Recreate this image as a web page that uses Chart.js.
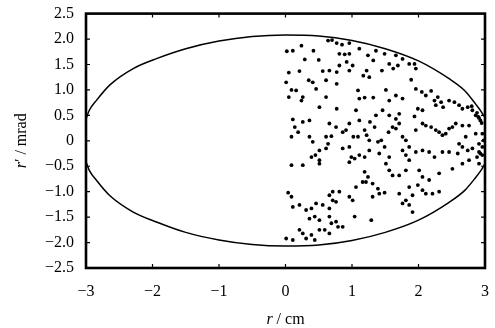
<!DOCTYPE html>
<html>
<head>
<meta charset="utf-8">
<script src="https://cdn.jsdelivr.net/npm/chart.js@4.4.1/dist/chart.umd.min.js"></script>
<style>
  body { margin: 0; background: #fff; }
  #wrap { width: 495px; height: 328px; position: relative; }
</style>
</head>
<body>
<div id="wrap"><canvas id="phaseChart"></canvas></div>
<script>
// acceptance ellipse (its tips are cut by the frame)
var ellipseX = [-3, -2.95, -2.84, -2.64, -2.29, -1.93, -1.5, -1, -0.5, 0,
  0.5, 1, 1.5, 2, 2.46, 2.7, 2.86, 2.95, 3];
var ellipseUpper = [0.43, 0.6, 0.8, 1.1, 1.42, 1.62, 1.81, 1.96, 2.05, 2.08,
  2.06, 1.97, 1.81, 1.57, 1.22, 0.98, 0.72, 0.56, 0.45];
var ellipseLower = [-0.41, -0.58, -0.78, -1.08, -1.4, -1.6, -1.8, -1.95, -2.04, -2.07,
  -2.05, -1.96, -1.8, -1.56, -1.21, -0.97, -0.72, -0.56, -0.45];

// particles: r (cm) and r' (mrad)
var particleR = [
  0.24, 0.02, 0.11, 0.42, 0.29, 0.50, 0.64, 0.70, 0.77, 0.85, 0.96, 0.81, 0.89, 0.96, 0.92,
  1.11, 1.24, 1.32, 1.36, 1.49, 1.66, 1.69, 1.76, 1.86, 1.94, 1.96, 1.56, 1.62, 1.22, 1.17,
  1.45, 1.26, 1.89, 0.81, 0.77, 0.66, 0.56, 0.05, 0.21, 0.35, 0.41, 0.01, 0.61, 0.77, 0.96,
  1.01,
  0.09, 0.05, 0.16, 0.24, 0.26, 0.46, 0.61, 0.77, 0.51, 1.09, 1.11, 1.19, 1.32, 1.51, 1.56,
  1.66, 1.76, 1.96, 2.05, 2.11, 2.19, 2.24, 2.29, 2.34, 2.26, 2.37, 2.46, 2.54, 2.61, 2.66,
  2.74, 2.81, 2.86, 2.91, 2.06, 1.99, 1.94, 1.71, 1.66, 1.46, 1.56, 1.36, 1.27, 1.06, 1.11,
  0.96, 0.91, 0.76, 0.66, 0.36, 0.26, 0.11, 0.14, 0.19, 2.80, 2.88, 2.93, 2.90, 2.95,
  0.09, 0.36, 0.41, 0.61, 0.64, 0.69, 0.86, 0.96, 1.02, 1.09, 1.19, 1.22, 1.26, 1.34, 1.39,
  1.44, 1.49, 1.55, 1.61, 1.66, 1.71, 1.76, 1.81, 1.86, 1.96, 2.06, 2.11, 2.19, 2.26, 2.31,
  2.36, 2.41, 2.46, 2.51, 2.56, 2.66, 2.76, 2.86, 2.96, 2.71, 2.61, 2.66, 2.74, 2.81, 2.91,
  2.96, 2.59, 2.46, 2.36, 2.24, 2.16, 2.06, 1.96, 0.51, 0.39, 0.51, 0.45, 0.61, 0.86, 1.11,
  0.96, 0.99, 1.04, 1.19, 1.26, 1.41, 1.56, 1.76, 1.81, 1.86, 2.91, 2.96, 2.93, 2.88, 2.98,
  0.09, 0.26, 0.51, 1.19, 1.24, 1.21, 1.31, 1.51, 1.56, 1.61, 1.71, 1.81, 2.01, 2.06, 2.16,
  2.31, 2.51, 2.66, 2.76, 2.91, 1.86, 1.99, 2.06, 2.11, 2.21, 2.31, 1.91, 1.81, 1.76, 1.86,
  1.91, 0.96, 1.01, 1.06, 1.16, 0.71, 0.81, 0.66, 1.39, 1.41, 1.31, 1.49, 1.71, 0.04, 0.09,
  0.11, 0.21, 0.31, 0.39, 0.46, 0.56, 0.66, 0.71, 0.76, 0.44, 0.36, 0.51, 0.66, 0.69, 0.76,
  0.79, 0.86, 1.04, 1.29,
  0.01, 0.11, 0.21, 0.26, 0.31, 0.39, 0.44, 0.51, 0.59, 0.66
];
var particleRp = [
  1.87, 1.76, 1.77, 1.77, 1.60, 1.59, 1.97, 1.98, 1.92, 1.89, 1.92, 1.71, 1.70, 1.71, 1.55,
  1.81, 1.68, 1.58, 1.77, 1.71, 1.68, 1.48, 1.61, 1.51, 1.51, 1.42, 1.51, 1.42, 1.38, 1.28,
  1.38, 1.25, 1.20, 1.48, 1.35, 1.38, 1.37, 1.34, 1.37, 1.19, 1.15, 1.15, 1.19, 1.12, 1.38,
  1.48,
  1.00, 0.86, 0.99, 0.79, 0.86, 1.02, 0.86, 0.63, 0.66, 0.99, 0.83, 0.85, 0.85, 1.00, 0.79,
  0.89, 0.83, 1.02, 0.96, 0.89, 0.98, 0.79, 0.86, 0.76, 0.70, 0.66, 0.79, 0.76, 0.70, 0.63,
  0.66, 0.60, 0.50, 0.45, 0.60, 0.63, 0.48, 0.53, 0.43, 0.60, 0.50, 0.50, 0.37, 0.60, 0.40,
  0.34, 0.21, 0.27, 0.34, 0.40, 0.37, 0.42, 0.27, 0.17, 0.68, 0.55, 0.40, 0.47, 0.35,
  0.08, 0.08, -0.02, 0.08, -0.06, 0.09, 0.17, -0.12, 0.08, 0.08, 0.21, 0.11, 0.01, 0.27, -0.02,
  0.01, -0.12, 0.17, 0.27, 0.24, 0.34, 0.08, 0.01, -0.12, 0.21, 0.34, 0.30, 0.27, 0.21, 0.17,
  0.11, 0.14, 0.24, 0.27, 0.34, 0.30, 0.30, 0.14, 0.14, 0.08, -0.06, -0.12, -0.19, -0.15, -0.22,
  -0.28, -0.25, -0.22, -0.22, -0.32, -0.22, -0.19, -0.22, -0.19, -0.32, -0.38, -0.28, -0.15, -0.15, -0.28,
  -0.42, -0.32, -0.35, -0.32, -0.19, -0.25, -0.32, -0.19, -0.28, -0.38, -0.06, -0.12, -0.25, -0.32, 0.01,
  -0.48, -0.48, -0.45, -0.61, -0.71, -0.81, -0.84, -0.45, -0.58, -0.68, -0.68, -0.58, -0.58, -0.71, -0.77,
  -0.64, -0.55, -0.45, -0.38, -0.45, -0.91, -0.87, -0.97, -1.04, -1.04, -1.00, -1.07, -1.17, -1.23, -1.26,
  -1.40, -1.10, -1.17, -0.91, -0.81, -1.00, -1.00, -1.07, -0.94, -1.04, -1.10, -1.02, -1.04, -1.02, -1.10,
  -1.30, -1.26, -1.36, -1.33, -1.23, -1.26, -1.33, -1.17, -1.20, -1.49, -1.53, -1.56, -1.49, -1.62, -1.59,
  -1.69, -1.69, -1.49, -1.56,
  -1.92, -1.95, -1.75, -1.82, -1.92, -1.85, -1.95, -1.75, -1.75, -1.82
];

var xTicks = [-3, -2, -1, 0, 1, 2, 3];
var xTickLabels = ["\u22123", "\u22122", "\u22121", "0", "1", "2", "3"];
var yTicks = [-2.5, -2, -1.5, -1, -0.5, 0, 0.5, 1, 1.5, 2, 2.5];
var yTickLabels = ["\u22122.5", "\u22122.0", "\u22121.5", "\u22121.0", "\u22120.5", "0",
  "0.5", "1.0", "1.5", "2.0", "2.5"];

var FONT = "'Liberation Serif', 'Times New Roman', serif";

function pairs(xs, ys) {
  return xs.map(function (x, i) { return { x: x, y: ys[i] }; });
}

// heavy frame with small inward ticks on all four sides
var framePlugin = {
  id: "frame",
  afterDatasetsDraw: function (chart) {
    var ctx = chart.ctx, a = chart.chartArea;
    var xs = chart.scales.x, ys = chart.scales.y;
    ctx.save();
    ctx.strokeStyle = "#000";
    ctx.lineWidth = 1.2;
    ctx.beginPath();
    xTicks.forEach(function (v) {
      var px = xs.getPixelForValue(v);
      ctx.moveTo(px, a.bottom); ctx.lineTo(px, a.bottom - 4);
      ctx.moveTo(px, a.top); ctx.lineTo(px, a.top + 4);
    });
    yTicks.forEach(function (v) {
      var py = ys.getPixelForValue(v);
      ctx.moveTo(a.left, py); ctx.lineTo(a.left + 4, py);
      ctx.moveTo(a.right, py); ctx.lineTo(a.right - 4, py);
    });
    ctx.stroke();
    ctx.lineWidth = 2.6;
    ctx.strokeRect(a.left, a.top, a.right - a.left, a.bottom - a.top);
    ctx.restore();
  }
};

// axis titles with italic variable names
var titlePlugin = {
  id: "axisTitles",
  afterDraw: function (chart) {
    var ctx = chart.ctx, a = chart.chartArea;
    ctx.save();
    ctx.fillStyle = "#000";
    ctx.textBaseline = "middle";

    var it = "italic 16px " + FONT, rm = "16px " + FONT;
    ctx.font = it; var w1 = ctx.measureText("r").width;
    ctx.font = rm; var w2 = ctx.measureText(" / cm").width;
    var x0 = (a.left + a.right) / 2 - (w1 + w2) / 2;
    ctx.font = it; ctx.fillText("r", x0, 320);
    ctx.font = rm; ctx.fillText(" / cm", x0 + w1, 320);

    ctx.translate(22, (a.top + a.bottom) / 2);
    ctx.rotate(-Math.PI / 2);
    ctx.font = it; var v1 = ctx.measureText("r").width;
    ctx.font = rm; var v2 = ctx.measureText("\u2032 / mrad").width;
    var y0 = -(v1 + v2) / 2;
    ctx.font = it; ctx.fillText("r", y0, 0);
    ctx.font = rm; ctx.fillText("\u2032 / mrad", y0 + v1, 0);
    ctx.restore();
  }
};

var phaseChart = new Chart(document.getElementById("phaseChart"), {
  type: "scatter",
  data: {
    datasets: [
      {
        label: "particles",
        data: pairs(particleR, particleRp),
        backgroundColor: "#000",
        borderWidth: 0,
        pointRadius: 1.9,
        pointHoverRadius: 1.9,
      },
      {
        label: "ellipse upper",
        data: pairs(ellipseX, ellipseUpper),
        showLine: true,
        borderColor: "#000",
        borderWidth: 1.5,
        pointRadius: 0,
        cubicInterpolationMode: "monotone",
      },
      {
        label: "ellipse lower",
        data: pairs(ellipseX, ellipseLower),
        showLine: true,
        borderColor: "#000",
        borderWidth: 1.5,
        pointRadius: 0,
        cubicInterpolationMode: "monotone",
      },
    ],
  },
  options: {
    responsive: true,
    maintainAspectRatio: false,
    animation: false,
    layout: { padding: { top: 13, right: 9, left: 0, bottom: 0 } },
    plugins: { legend: { display: false }, tooltip: { enabled: false } },
    scales: {
      x: {
        type: "linear",
        min: -3,
        max: 3,
        grid: { display: false },
        border: { display: false },
        afterBuildTicks: function (s) { s.ticks = xTicks.map(function (v) { return { value: v }; }); },
        afterFit: function (s) { s.height = 60; },
        ticks: {
          color: "#000",
          padding: 6,
          font: { family: FONT, size: 16 },
          callback: function (v) { return xTickLabels[xTicks.indexOf(v)]; },
        },
      },
      y: {
        type: "linear",
        min: -2.5,
        max: 2.5,
        grid: { display: false },
        border: { display: false },
        afterBuildTicks: function (s) { s.ticks = yTicks.map(function (v) { return { value: v }; }); },
        afterFit: function (s) { s.width = 86; },
        ticks: {
          color: "#000",
          padding: 4,
          font: { family: FONT, size: 16 },
          callback: function (v) { return yTickLabels[yTicks.indexOf(v)]; },
        },
      },
    },
  },
  plugins: [framePlugin, titlePlugin],
});
</script>
</body>
</html>
